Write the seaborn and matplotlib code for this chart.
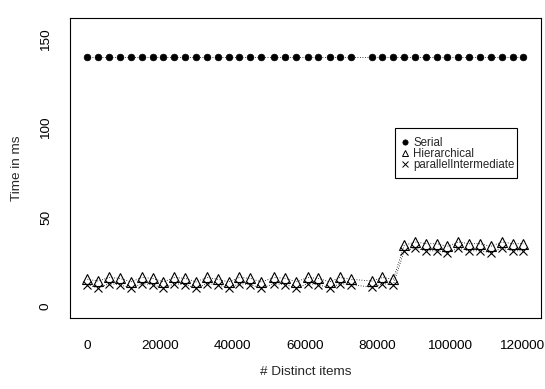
import matplotlib
matplotlib.use("Agg")
import matplotlib.pyplot as plt
from matplotlib.lines import Line2D
from matplotlib.patches import Rectangle
import seaborn as sns
import pandas as pd

# ---- data ----
distinct_items = [0, 3000, 6000, 9000, 12000, 15000, 18000, 21000, 24000, 27000,
                  30000, 33000, 36000, 39000, 42000, 45000, 48000,
                  51600, 54700, 57700, 60800, 63800, 66900, 69800, 72800,
                  78600, 81500, 84500, 87500, 90500, 93600, 96500, 99400,
                  102500, 105400, 108500, 111400, 114500, 117500, 120400]

serial = [140] * 40

hierarchical = [15, 14, 16, 15.5, 13.5, 16, 15.5, 13.5, 16, 15.5,
                13.5, 16, 15, 13.5, 16, 15.5, 13.5,
                16, 15.5, 13.5, 16, 15.5, 13.5, 16, 15,
                14, 16, 15,
                34, 36, 35, 35, 33.5, 36, 35, 35, 33.5, 36, 35, 35]

parallel_intermediate = [12, 10, 12.5, 12, 10, 12.5, 12, 10, 12.5, 12,
                         10, 12.5, 12, 10, 12.5, 12, 10,
                         12.5, 12, 10, 12.5, 12, 10, 12.5, 12,
                         10.5, 12.5, 12,
                         31, 32.5, 31, 31, 30, 32.5, 31, 31, 30, 32.5, 31, 31]

series_names = ["Serial", "Hierarchical", "parallelIntermediate"]

x_ticks = [0, 20000, 40000, 60000, 80000, 100000, 120000]
y_ticks = [0, 50, 100, 150]

# ---- styling ----
sns.set_style("white")
plt.rcParams["font.family"] = ["Liberation Sans", "DejaVu Sans"]

fig = plt.figure(figsize=(5.45, 3.89), dpi=100)
ax = fig.add_axes([70 / 545, 1 - 318 / 389, 470.7 / 545, 300 / 389])

df = pd.DataFrame({"x": distinct_items, "Serial": serial,
                   "Hierarchical": hierarchical,
                   "parallelIntermediate": parallel_intermediate})

styles = {
    "Serial": dict(marker="o", markersize=4.8, markerfacecolor="black",
                   markeredgecolor="black", markeredgewidth=0.5),
    "Hierarchical": dict(marker="^", markersize=6.5, markerfacecolor="none",
                         markeredgecolor="black", markeredgewidth=0.8),
    "parallelIntermediate": dict(marker="x", markersize=5.2,
                                 markeredgecolor="black", markeredgewidth=0.8),
}

for name in series_names:
    sns.lineplot(data=df, x="x", y=name, ax=ax, color="black", linewidth=0.6,
                 linestyle=(0, (1, 2)), legend=False, **styles[name])

ax.set_xlim(-4816, 125216)
ax.set_ylim(-6.8, 162)
ax.set_xticks(x_ticks)
ax.set_xticklabels([str(t) for t in x_ticks])
ax.set_yticks(y_ticks)
ax.set_yticklabels([str(t) for t in y_ticks], rotation=90, va="center")

ax.tick_params(axis="both", direction="out", length=6, width=0.8,
               color="black", labelsize=9.7, labelcolor="black")
ax.tick_params(axis="x", pad=10)
ax.tick_params(axis="y", pad=7)

for sp in ax.spines.values():
    sp.set_visible(True)
    sp.set_color("black")
    sp.set_linewidth(0.8)

ax.set_xlabel("# Distinct items", fontsize=9.7, labelpad=10)
ax.set_ylabel("Time in ms", fontsize=9.7, labelpad=12)
ax.grid(False)

# legend box (R-style: text runs up to the right border)
ax.add_patch(Rectangle((0.6905, 0.4667), 0.2592, 0.1666,
                       transform=ax.transAxes, fill=True, facecolor="white",
                       edgecolor="black", linewidth=0.8, zorder=4))

legend_styles = {
    "Serial": dict(marker="o", markersize=3.8, markerfacecolor="black",
                   markeredgecolor="black", markeredgewidth=0.5),
    "Hierarchical": dict(marker="^", markersize=5.0, markerfacecolor="none",
                         markeredgecolor="black", markeredgewidth=0.7),
    "parallelIntermediate": dict(marker="x", markersize=4.2,
                                 markeredgecolor="black", markeredgewidth=0.7),
}
handles = [Line2D([], [], linestyle="none", color="black", **legend_styles[n])
           for n in series_names]
leg = ax.legend(handles, series_names, loc="upper left",
                bbox_to_anchor=(0.701, 0.603), borderaxespad=0,
                frameon=False, fontsize=8.3, borderpad=0,
                handlelength=0.8, handletextpad=0.35, labelspacing=-0.11)
leg.set_zorder(5)

fig.savefig("out.png", dpi=100)
